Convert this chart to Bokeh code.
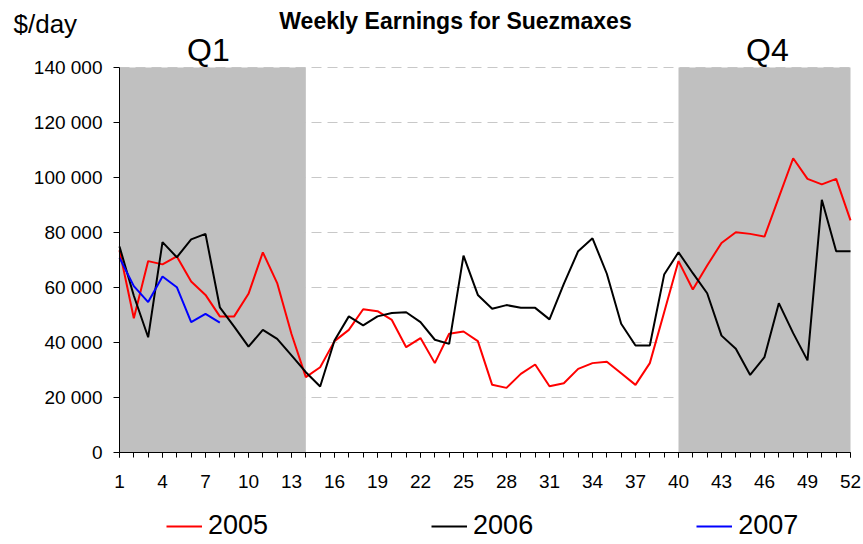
from bokeh.plotting import figure
from bokeh.models import (ColumnDataSource, FixedTicker, Range1d, Legend, LegendItem, Label)
from bokeh.embed import file_html
from bokeh.resources import INLINE

# ---- data ----
weeks = list(range(1, 53))
earn_2005 = [73.5, 48.8, 69.6, 68.4, 71.3, 62.2, 57.3, 49.5, 49.5, 57.7,
             72.8, 61.6, 43.1, 27.4, 31.0, 40.5, 44.6, 52.1, 51.4, 48.2,
             38.3, 41.6, 32.5, 43.2, 44.0, 40.5, 24.6, 23.5, 28.6, 32.0,
             24.1, 25.2, 30.4, 32.5, 33.0, 28.8, 24.6, 32.5, 51.0, 69.6,
             59.3, 68.0, 76.2, 80.1, 79.5, 78.5, 92.8, 107.0, 99.5, 97.5, 99.5, 84.4]
earn_2006 = [74.9, 57.0, 41.9, 76.5, 71.0, 77.5, 79.5, 52.8, 45.8, 38.5,
             44.6, 41.3, 35.3, 29.2, 24.0, 40.7, 49.5, 46.2, 49.5, 50.7,
             51.0, 47.4, 41.0, 39.5, 71.6, 57.3, 52.3, 53.6, 52.6, 52.6,
             48.4, 61.3, 73.2, 77.9, 65.0, 46.8, 38.9, 38.9, 64.7, 72.8,
             65.2, 57.9, 42.5, 37.7, 28.2, 34.7, 54.3, 43.4, 33.5, 91.9, 73.2, 73.2]
earn_2007 = [70.8, 60.5, 54.7, 64.0, 60.1, 47.4, 50.4, 47.2]

quarter_names = ["Q1", "Q4"]
quarter_start = [1, 40]
quarter_end = [14, 52]

y_ticks = [0, 20000, 40000, 60000, 80000, 100000, 120000, 140000]
y_tick_labels = ["0", "20 000", "40 000", "60 000", "80 000", "100 000", "120 000", "140 000"]
x_tick_labels = [1, 4, 7, 10, 13, 16, 19, 22, 25, 28, 31, 34, 37, 40, 43, 46, 49, 52]

title_text = "Weekly Earnings for Suezmaxes"
unit_text = "$/day"
series_names = ["2005", "2006", "2007"]
series_colors = ["#FF0000", "#000000", "#0000FF"]

FONT = "Liberation Sans"

# ---- layout (pixels) ----
W, H = 862, 543
PX_LEFT, PX_RIGHT = 119, 850      # x pixel of first / last week
PX_BOTTOM, PX_TOP = 452, 67       # y pixel of 0 / 140 000
x_first, x_last = weeks[0], weeks[-1]
y_lo, y_hi = y_ticks[0], y_ticks[-1]
px_per_x = (PX_RIGHT - PX_LEFT) / (x_last - x_first)
px_per_y = (PX_BOTTOM - PX_TOP) / (y_hi - y_lo)
x_range = Range1d(x_first - PX_LEFT / px_per_x, x_first + (W - PX_LEFT) / px_per_x)
y_range = Range1d(y_lo - (H - PX_BOTTOM) / px_per_y, y_lo + PX_BOTTOM / px_per_y)

p = figure(width=W, height=H, output_backend="svg", toolbar_location=None,
           x_range=x_range, y_range=y_range,
           min_border_left=0, min_border_right=0, min_border_top=0, min_border_bottom=0)
p.outline_line_color = None
p.background_fill_color = "white"
p.border_fill_color = "white"
p.xgrid.visible = False
p.ygrid.visible = False

# dashed horizontal gridlines (limited to the plot area)
gsrc = ColumnDataSource(dict(x0=[x_first] * len(y_ticks), x1=[x_last] * len(y_ticks),
                             y=y_ticks))
p.segment(x0="x0", y0="y", x1="x1", y1="y", source=gsrc,
          line_color="#C8C8C8", line_dash="10 6", line_width=1)

# quarter shading
qsrc = ColumnDataSource(dict(left=quarter_start, right=quarter_end,
                             bottom=[y_lo] * 2, top=[y_hi] * 2))
p.quad(left="left", right="right", bottom="bottom", top="top", source=qsrc,
       fill_color="#C0C0C0", line_color=None)

# series
r05 = p.line(weeks, [v * 1000 for v in earn_2005], line_color=series_colors[0], line_width=2)
r06 = p.line(weeks, [v * 1000 for v in earn_2006], line_color=series_colors[1], line_width=2)
r07 = p.line(weeks[:len(earn_2007)], [v * 1000 for v in earn_2007],
             line_color=series_colors[2], line_width=2)

# axes
yax = p.yaxis[0]
yax.fixed_location = x_first
yax.bounds = (y_lo, y_hi)
yax.ticker = FixedTicker(ticks=y_ticks)
yax.major_label_overrides = {t: l for t, l in zip(y_ticks, y_tick_labels)}
yax.major_tick_in = 0
yax.major_tick_out = 6
yax.minor_tick_line_color = None
yax.major_label_standoff = 11
yax.major_label_text_font = FONT
yax.major_label_text_font_size = "19px"
yax.major_label_text_color = "black"
yax.axis_line_color = "black"

xax = p.xaxis[0]
xax.fixed_location = y_lo
xax.bounds = (x_first, x_last)
xax.ticker = FixedTicker(ticks=x_tick_labels, minor_ticks=weeks)
xax.major_tick_in = 0
xax.major_tick_out = 5
xax.minor_tick_in = 0
xax.minor_tick_out = 5
xax.minor_tick_line_color = "black"
xax.major_label_standoff = 17
xax.major_label_text_font = FONT
xax.major_label_text_font_size = "19px"
xax.major_label_text_color = "black"
xax.axis_line_color = "black"

# texts
p.add_layout(Label(x=x_first + (455 - PX_LEFT) / px_per_x, y=y_hi, y_offset=PX_TOP - 20,
                   text=title_text, text_align="center",
                   text_baseline="alphabetic", text_font=FONT, text_font_style="bold",
                   text_font_size="23px", text_color="black"))
p.add_layout(Label(x=x_first, y=y_hi, x_offset=13 - PX_LEFT, y_offset=PX_TOP - 23,
                   text=unit_text, text_align="left",
                   text_baseline="alphabetic", text_font=FONT, text_font_size="26px",
                   text_color="black"))
q_label_x = [7.2, 46.2]
for name, qx in zip(quarter_names, q_label_x):
    p.add_layout(Label(x=qx, y=y_hi, y_offset=PX_TOP - 49, text=name, text_align="center",
                       text_baseline="alphabetic", text_font=FONT, text_font_size="32px",
                       text_color="black"))

legend = Legend(items=[LegendItem(label=series_names[0], renderers=[r05]),
                       LegendItem(label=series_names[1], renderers=[r06]),
                       LegendItem(label=series_names[2], renderers=[r07])],
                orientation="horizontal", location=(166, 2),
                glyph_width=36, glyph_height=26, label_standoff=6, spacing=163,
                padding=0, margin=0, border_line_color=None, background_fill_alpha=0,
                label_text_font=FONT, label_text_font_size="27px", label_text_color="black")
p.add_layout(legend, "center")

open("out.html", "w").write(file_html(p, INLINE))
